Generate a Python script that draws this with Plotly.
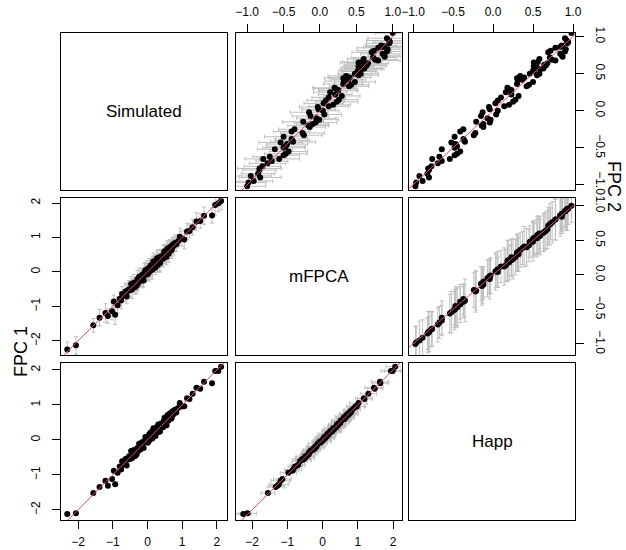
import plotly.graph_objects as go

# ---------------- data ----------------
methods = ["Simulated", "mFPCA", "Happ"]

# FPC 1 scores
s1 = [-2.31, -2.06, -1.56, -1.38, -1.21, -1.14, -1.02, -0.97, -0.93, -0.86,
      -0.80, -0.76, -0.73, -0.69, -0.64, -0.60, -0.57, -0.53, -0.50, -0.47,
      -0.44, -0.41, -0.39, -0.35, -0.33, -0.29, -0.27, -0.24, -0.21, -0.19,
      -0.16, -0.14, -0.11, -0.09, -0.06, -0.04, -0.01, 0.01, 0.03, 0.05,
      0.07, 0.09, 0.11, 0.12, 0.14, 0.16, 0.17, 0.19, 0.21, 0.23,
      0.25, 0.27, 0.29, 0.31, 0.33, 0.35, 0.37, 0.39, 0.41, 0.43,
      0.45, 0.47, 0.49, 0.51, 0.53, 0.55, 0.57, 0.59, 0.61, 0.64,
      0.66, 0.69, 0.72, 0.75, 0.79, 0.83, 0.88, 0.93, 0.99, 1.06,
      1.14, 1.21, 1.30, 1.41, 1.52, 1.63, 1.86, 1.95, 2.04, 2.12,
      -0.62, -0.31, -0.08, 0.04, 0.15, 0.28, 0.36, 0.48, 0.58, 0.70]
h1 = [-2.12, -2.10, -1.52, -1.35, -1.17, -1.31, -1.12, -0.88, -1.27, -0.94,
      -0.76, -0.85, -0.61, -0.71, -0.57, -0.73, -0.57, -0.47, -0.55, -0.32,
      -0.52, -0.38, -0.29, -0.46, -0.31, -0.23, -0.31, -0.11, -0.28, -0.18,
      -0.07, -0.19, -0.23, -0.05, 0.08, -0.06, 0.06, -0.08, 0.04, 0.16,
      0.01, 0.21, 0.10, 0.17, 0.04, 0.24, 0.33, 0.16, 0.25, 0.11,
      0.27, 0.37, 0.22, 0.44, 0.31, 0.24, 0.42, 0.47, 0.37, 0.44,
      0.36, 0.53, 0.63, 0.48, 0.55, 0.42, 0.66, 0.59, 0.55, 0.75,
      0.70, 0.61, 0.82, 0.73, 0.86, 0.78, 0.91, 1.05, 0.95, 0.96,
      1.19, 1.17, 1.32, 1.49, 1.46, 1.66, 1.62, 1.97, 1.97, 2.09,
      -0.54, -0.41, -0.03, -0.03, 0.26, 0.27, 0.24, 0.54, 0.71, 0.65]
m1 = [-2.25, -2.13, -1.55, -1.33, -1.19, -1.28, -1.14, -0.86, -1.24, -0.97,
      -0.78, -0.83, -0.64, -0.69, -0.59, -0.71, -0.55, -0.50, -0.53, -0.35,
      -0.50, -0.40, -0.31, -0.44, -0.33, -0.21, -0.33, -0.14, -0.26, -0.20,
      -0.09, -0.17, -0.25, -0.03, 0.05, -0.08, 0.08, -0.06, 0.02, 0.13,
      0.03, 0.19, 0.12, 0.15, 0.06, 0.22, 0.30, 0.18, 0.23, 0.13,
      0.25, 0.39, 0.20, 0.41, 0.33, 0.26, 0.40, 0.45, 0.39, 0.42,
      0.38, 0.51, 0.60, 0.50, 0.53, 0.44, 0.63, 0.61, 0.53, 0.72,
      0.72, 0.63, 0.79, 0.75, 0.84, 0.80, 0.89, 1.02, 0.97, 0.94,
      1.17, 1.19, 1.30, 1.46, 1.48, 1.63, 1.64, 1.94, 1.99, 2.06,
      -0.56, -0.39, -0.05, -0.01, 0.24, 0.29, 0.26, 0.52, 0.68, 0.67]
e1 = [0.22, 0.26, 0.20, 0.24, 0.27, 0.21, 0.25, 0.19, 0.28, 0.23,
      0.20, 0.24, 0.22, 0.18, 0.26, 0.21, 0.23, 0.25, 0.19, 0.22,
      0.27, 0.20, 0.24, 0.21, 0.18, 0.25, 0.22, 0.26, 0.20, 0.23,
      0.19, 0.24, 0.21, 0.27, 0.22, 0.18, 0.25, 0.20, 0.23, 0.26,
      0.21, 0.19, 0.24, 0.22, 0.27, 0.20, 0.25, 0.18, 0.23, 0.21,
      0.26, 0.22, 0.19, 0.24, 0.20, 0.27, 0.23, 0.21, 0.25, 0.18,
      0.22, 0.26, 0.20, 0.24, 0.19, 0.23, 0.27, 0.21, 0.25, 0.22,
      0.18, 0.24, 0.20, 0.26, 0.23, 0.21, 0.19, 0.25, 0.22, 0.27,
      0.24, 0.20, 0.23, 0.26, 0.21, 0.25, 0.22, 0.28, 0.24, 0.26,
      0.21, 0.23, 0.19, 0.25, 0.22, 0.20, 0.24, 0.26, 0.21, 0.23]

# FPC 2 scores
s2 = [0.42, -0.65, 0.88, -0.12, 0.31, -0.85, 0.57, 0.05, -0.38, 0.73,
      -0.95, 0.18, 0.64, -0.52, 0.95, -0.22, 0.36, -0.71, 0.12, 0.81,
      -0.45, 0.50, -0.02, 0.69, -0.60, 0.27, -0.33, 0.85, -0.80, 0.44,
      0.08, -0.15, 0.60, -0.48, 0.77, -0.28, 0.22, -0.90, 0.54, 0.00,
      0.66, -0.40, 0.91, -0.07, 0.39, -0.62, 0.15, 0.72, -0.25, 0.48,
      -1.02, 0.30, 0.83, -0.55, 0.58, -0.18, 0.10, -0.75, 0.68, 0.25,
      -0.35, 0.62, -0.05, 0.45, -0.68, 0.79, 0.20, -0.42, 0.53, 0.98,
      -0.88, 0.35, -0.10, 0.70, -0.30, 0.87, 0.40, -0.58, 0.02, 0.61,
      1.05, -0.20, 0.47, -0.78, 0.75, 0.14, -0.50, 0.93, 0.33, -0.65,
      0.56, -0.97, 0.28, 0.80, -0.43, 0.65, 0.06, 0.50, -0.16, 0.86]
h2 = [0.37, -0.54, 0.86, -0.03, 0.18, -0.82, 0.63, -0.05, -0.37, 0.87,
      -0.88, 0.10, 0.68, -0.64, 0.92, -0.12, 0.30, -0.69, 0.25, 0.72,
      -0.47, 0.58, -0.13, 0.74, -0.48, 0.23, -0.24, 0.78, -0.80, 0.30,
      0.20, -0.21, 0.51, -0.45, 0.84, -0.41, 0.23, -0.80, 0.50, 0.06,
      0.56, -0.36, 0.93, -0.15, 0.50, -0.67, 0.28, 0.71, -0.37, 0.55,
      -0.97, 0.19, 0.91, -0.41, 0.55, -0.12, 0.03, -0.77, 0.78, 0.16,
      -0.48, 0.64, 0.04, 0.39, -0.64, 0.69, 0.32, -0.35, 0.51, 0.90,
      -0.92, 0.45, -0.07, 0.58, -0.22, 0.86, 0.31, -0.45, -0.04, 0.66,
      0.98, -0.14, 0.34, -0.81, 0.86, 0.06, -0.48, 0.94, 0.42, -0.76,
      0.59, -0.96, 0.23, 0.90, -0.52, 0.51, 0.14, 0.46, -0.04, 0.84]
m2 = [0.39, -0.56, 0.84, -0.01, 0.20, -0.85, 0.61, -0.03, -0.39, 0.89,
      -0.91, 0.12, 0.66, -0.62, 0.95, -0.14, 0.32, -0.72, 0.23, 0.74,
      -0.45, 0.56, -0.15, 0.76, -0.50, 0.25, -0.22, 0.80, -0.83, 0.32,
      0.18, -0.23, 0.53, -0.47, 0.86, -0.39, 0.21, -0.82, 0.52, 0.04,
      0.58, -0.38, 0.95, -0.13, 0.48, -0.69, 0.26, 0.73, -0.35, 0.53,
      -1.00, 0.21, 0.93, -0.43, 0.57, -0.10, 0.05, -0.79, 0.80, 0.14,
      -0.50, 0.62, 0.06, 0.41, -0.66, 0.71, 0.30, -0.37, 0.53, 0.92,
      -0.95, 0.43, -0.05, 0.60, -0.24, 0.88, 0.33, -0.47, -0.02, 0.64,
      1.00, -0.16, 0.36, -0.83, 0.88, 0.08, -0.50, 0.96, 0.40, -0.78,
      0.57, -0.98, 0.25, 0.92, -0.54, 0.53, 0.12, 0.48, -0.06, 0.86]
e2 = [0.24, 0.28, 0.21, 0.26, 0.30, 0.23, 0.27, 0.25, 0.22, 0.29,
      0.26, 0.23, 0.28, 0.24, 0.31, 0.22, 0.27, 0.25, 0.29, 0.23,
      0.28, 0.24, 0.26, 0.30, 0.22, 0.27, 0.25, 0.29, 0.23, 0.26,
      0.24, 0.28, 0.21, 0.27, 0.30, 0.25, 0.23, 0.29, 0.26, 0.22,
      0.27, 0.24, 0.31, 0.25, 0.28, 0.23, 0.26, 0.30, 0.22, 0.27,
      0.25, 0.29, 0.24, 0.26, 0.28, 0.22, 0.27, 0.25, 0.30, 0.23,
      0.26, 0.28, 0.24, 0.29, 0.22, 0.27, 0.25, 0.31, 0.23, 0.26,
      0.28, 0.24, 0.27, 0.22, 0.30, 0.25, 0.26, 0.29, 0.23, 0.27,
      0.24, 0.28, 0.25, 0.30, 0.22, 0.26, 0.29, 0.23, 0.27, 0.25,
      0.28, 0.24, 0.26, 0.22, 0.30, 0.25, 0.27, 0.23, 0.29, 0.26]

ref_line = [-3, 3]   # y = x identity line, clipped by each panel

# axis ranges
rng_s1 = [-2.49, 2.29]
rng_m1x = [-2.47, 2.24]
rng_m1y = [-2.41, 2.16]
rng_h1 = [-2.29, 2.21]
rng_m2 = [-1.16, 1.12]
rng_h2 = [-1.05, 1.025]
rng_s2 = [-1.07, 1.05]

# ---------------- layout geometry ----------------
W, H = 626, 550
ML, MR, MT, MB = 61, 51, 33, 30
PW, PH = W - ML - MR, H - MT - MB
col_px = [(61, 227), (235.5, 401.5), (409, 575)]
row_px = [(33, 190), (197.5, 355), (362.5, 520)]


def xdom(c):
    return [(col_px[c][0] - ML) / PW, (col_px[c][1] - ML) / PW]


def ydom(r):
    return [(H - MB - row_px[r][1]) / PH, (H - MB - row_px[r][0]) / PH]


def px2paper(px, py):
    return (px - ML) / PW, (H - MB - py) / PH


FONT = "Liberation Sans, Arial, Helvetica, sans-serif"
RED = "#DF536B"
GREY = "#BEBEBE"

panels = {
    (0, 1): dict(x=m2, y=s2, ex=e2, ey=None, xr=rng_m2, yr=rng_s2, xs="top", ys=None),
    (0, 2): dict(x=h2, y=s2, ex=None, ey=None, xr=rng_h2, yr=rng_s2, xs="top", ys="right"),
    (1, 0): dict(x=s1, y=m1, ex=None, ey=e1, xr=rng_s1, yr=rng_m1y, xs=None, ys="left"),
    (1, 2): dict(x=h2, y=m2, ex=None, ey=e2, xr=rng_h2, yr=rng_m2, xs=None, ys="right"),
    (2, 0): dict(x=s1, y=h1, ex=None, ey=None, xr=rng_s1, yr=rng_h1, xs="bottom", ys="left"),
    (2, 1): dict(x=m1, y=h1, ex=e1, ey=None, xr=rng_m1x, yr=rng_h1, xs="bottom", ys=None),
}

fig = go.Figure()
layout = dict(
    width=W, height=H,
    margin=dict(l=ML, r=MR, t=MT, b=MB, pad=0, autoexpand=False),
    paper_bgcolor="white", plot_bgcolor="white",
    showlegend=False,
    font=dict(family=FONT, size=12, color="black"),
)
annotations = []

for r in range(3):
    for c in range(3):
        k = r * 3 + c + 1
        xa = "xaxis" if k == 1 else f"xaxis{k}"
        ya = "yaxis" if k == 1 else f"yaxis{k}"
        xref = "x" if k == 1 else f"x{k}"
        yref = "y" if k == 1 else f"y{k}"
        base = dict(showline=True, linecolor="black", linewidth=1, mirror=True,
                    showgrid=False, zeroline=False, ticks="", showticklabels=False,
                    fixedrange=True, automargin=False)
        xax = dict(base, domain=xdom(c), anchor=yref)
        yax = dict(base, domain=ydom(r), anchor=xref)
        if r == c:
            xax["range"] = [0, 1]
            yax["range"] = [0, 1]
            fig.add_trace(go.Scatter(x=[0.5], y=[0.5], mode="markers", xaxis=xref, yaxis=yref,
                                     marker=dict(opacity=0), hoverinfo="skip"))
            annotations.append(dict(text=methods[r], x=0.5, y=0.5,
                                    xref=f"{xref} domain", yref=f"{yref} domain",
                                    xanchor="center", yanchor="middle",
                                    showarrow=False, font=dict(size=17, family=FONT)))
        else:
            p = panels[(r, c)]
            xax["range"] = p["xr"]
            yax["range"] = p["yr"]
            fpc2 = r < c
            tickx = dict(ticks="outside", ticklen=8, tickwidth=1, tickcolor="black",
                         showticklabels=True, tickfont=dict(size=12, family=FONT))
            if fpc2:
                tickx.update(tick0=0, dtick=0.5, tickformat=".1f")
            else:
                tickx.update(tick0=0, dtick=1, tickformat="d")
            if p["xs"]:
                xax.update(tickx, side=p["xs"], ticklabelstandoff=3)
            if p["ys"]:
                yax.update(tickx, side=p["ys"],
                           tickangle=-90 if p["ys"] == "left" else 90,
                           ticklabelstandoff=7)
            tr = dict(x=p["x"], y=p["y"], mode="markers", xaxis=xref, yaxis=yref,
                      marker=dict(color="black", size=6, line=dict(width=0)),
                      hoverinfo="skip")
            if p["ex"] is not None:
                tr["error_x"] = dict(type="data", array=p["ex"], color=GREY,
                                     thickness=1, width=2)
            if p["ey"] is not None:
                tr["error_y"] = dict(type="data", array=p["ey"], color=GREY,
                                     thickness=1, width=2)
            fig.add_trace(go.Scatter(**tr))
            fig.add_trace(go.Scatter(x=ref_line, y=ref_line, mode="lines",
                                     xaxis=xref, yaxis=yref,
                                     line=dict(color=RED, width=1), hoverinfo="skip"))
        layout[xa] = xax
        layout[ya] = yax

fx, fy = px2paper(21, 352)
annotations.append(dict(text="FPC 1", x=fx, y=fy, xref="paper", yref="paper",
                        xanchor="center", yanchor="middle",
                        showarrow=False, textangle=-90, font=dict(size=18, family=FONT)))
fx, fy = px2paper(614, 186)
annotations.append(dict(text="FPC 2", x=fx, y=fy, xref="paper", yref="paper",
                        xanchor="center", yanchor="middle",
                        showarrow=False, textangle=90, font=dict(size=18, family=FONT)))
layout["annotations"] = annotations

fig.update_layout(**layout)
fig.write_html("out.html",
               config={"displayModeBar": False},
               post_script="document.body.style.margin='0px';"
                           "document.body.style.overflow='hidden';")
